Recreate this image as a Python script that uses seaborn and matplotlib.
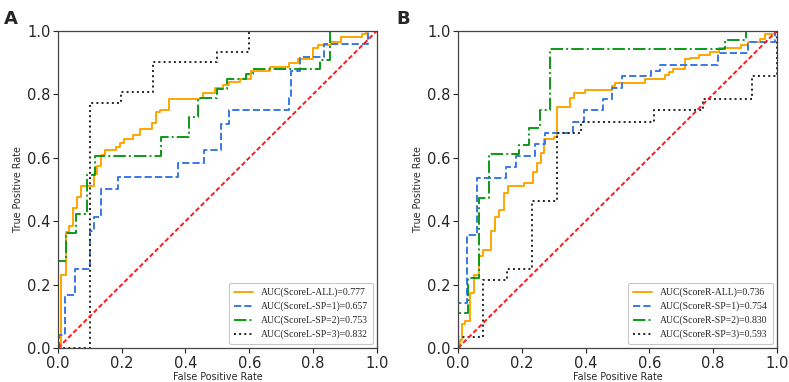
import matplotlib
matplotlib.use("Agg")
import matplotlib.pyplot as plt
import seaborn as sns
import pandas as pd

# ---------------- data ----------------
# Panel A (ScoreL)
a_all_fpr = [0, 0.011, 0.024, 0.036, 0.047, 0.06, 0.073, 0.113, 0.121, 0.134, 0.146, 0.183, 0.195, 0.206,
             0.235, 0.258, 0.296, 0.308, 0.319, 0.347, 0.444, 0.455, 0.494, 0.517, 0.538, 0.57, 0.606,
             0.666, 0.726, 0.752, 0.8, 0.815, 0.857, 0.888, 0.955, 0.967, 1.0]
a_all_tpr = [0, 0.23, 0.365, 0.385, 0.44, 0.475, 0.51, 0.55, 0.575, 0.61, 0.625, 0.635, 0.648, 0.66,
             0.672, 0.69, 0.71, 0.745, 0.75, 0.785, 0.79, 0.805, 0.82, 0.83, 0.84, 0.85, 0.875,
             0.885, 0.9, 0.91, 0.945, 0.955, 0.965, 0.98, 0.99, 1.0, 1.0]
a_sp1_fpr = [0, 0.003, 0.023, 0.052, 0.101, 0.113, 0.134, 0.188, 0.378, 0.458, 0.51, 0.538, 0.726, 0.73,
             0.758, 0.836, 0.972, 1.0]
a_sp1_tpr = [0, 0.042, 0.166, 0.25, 0.37, 0.413, 0.50, 0.54, 0.583, 0.625, 0.708, 0.75, 0.79, 0.875,
             0.917, 0.958, 1.0, 1.0]
a_sp2_fpr = [0, 0, 0.026, 0.057, 0.09, 0.116, 0.324, 0.41, 0.44, 0.498, 0.53, 0.59, 0.611, 0.823, 0.852, 1.0]
a_sp2_tpr = [0, 0.273, 0.364, 0.424, 0.545, 0.606, 0.667, 0.727, 0.788, 0.818, 0.848, 0.863, 0.879,
             0.909, 1.0, 1.0]
a_sp3_fpr = [0, 0.099, 0.199, 0.298, 0.498, 0.599, 1.0]
a_sp3_tpr = [0, 0.774, 0.806, 0.903, 0.935, 1.0, 1.0]

# Panel B (ScoreR)
b_all_fpr = [0, 0.005, 0.0125, 0.023, 0.039, 0.051, 0.065, 0.077, 0.104, 0.117, 0.13, 0.143, 0.156, 0.206,
             0.234, 0.247, 0.26, 0.271, 0.3, 0.31, 0.352, 0.364, 0.399, 0.482, 0.493, 0.587, 0.649,
             0.662, 0.675, 0.712, 0.728, 0.756, 0.79, 0.82, 0.889, 0.91, 0.947, 0.962, 0.994, 1.0]
b_all_tpr = [0, 0.024, 0.075, 0.085, 0.175, 0.23, 0.29, 0.31, 0.37, 0.413, 0.435, 0.49, 0.51, 0.52,
             0.555, 0.585, 0.615, 0.66, 0.665, 0.76, 0.79, 0.805, 0.815, 0.825, 0.835, 0.85, 0.86,
             0.87, 0.88, 0.91, 0.915, 0.925, 0.935, 0.945, 0.955, 0.965, 0.975, 0.99, 1.0, 1.0]
b_sp1_fpr = [0, 0, 0.028, 0.06, 0.151, 0.182, 0.242, 0.273, 0.362, 0.394, 0.456, 0.484, 0.514, 0.605,
             0.634, 0.816, 0.91, 0.994, 1.0]
b_sp1_tpr = [0, 0.143, 0.357, 0.536, 0.571, 0.607, 0.643, 0.679, 0.714, 0.75, 0.786, 0.821, 0.857, 0.875,
             0.893, 0.929, 0.964, 1.0, 1.0]
b_sp2_fpr = [0, 0, 0.031, 0.065, 0.096, 0.192, 0.224, 0.258, 0.289, 0.837, 0.902, 1.0]
b_sp2_tpr = [0, 0.111, 0.222, 0.472, 0.611, 0.639, 0.694, 0.75, 0.944, 0.972, 1.0, 1.0]
b_sp3_fpr = [0, 0, 0.077, 0.153, 0.232, 0.31, 0.386, 0.616, 0.769, 0.923, 1.0, 1.0]
b_sp3_tpr = [0, 0.036, 0.214, 0.25, 0.464, 0.679, 0.714, 0.75, 0.786, 0.857, 1.0, 1.0]

a_labels = ["AUC(ScoreL-ALL)=0.777", "AUC(ScoreL-SP=1)=0.657",
            "AUC(ScoreL-SP=2)=0.753", "AUC(ScoreL-SP=3)=0.832"]
b_labels = ["AUC(ScoreR-ALL)=0.736", "AUC(ScoreR-SP=1)=0.754",
            "AUC(ScoreR-SP=2)=0.830", "AUC(ScoreR-SP=3)=0.593"]
panel_letters = ["A", "B"]
ticks = [0.0, 0.2, 0.4, 0.6, 0.8, 1.0]

# ---------------- styling ----------------
sns.set_theme(style="ticks")
plt.rcParams['font.family'] = ['DejaVu Sans']

colors = ["#FFA500", "#3A78E6", "#0A9A16", "#222222"]
styles = ["-", "--", "-.", ":"]

fig = plt.figure(figsize=(7.89, 3.82), dpi=100)
axA = fig.add_axes([0.0735, 0.089, 0.404, 0.830])
axB = fig.add_axes([0.5805, 0.089, 0.404, 0.830])

panels = [
    (axA, [(a_all_fpr, a_all_tpr), (a_sp1_fpr, a_sp1_tpr), (a_sp2_fpr, a_sp2_tpr), (a_sp3_fpr, a_sp3_tpr)], a_labels),
    (axB, [(b_all_fpr, b_all_tpr), (b_sp1_fpr, b_sp1_tpr), (b_sp2_fpr, b_sp2_tpr), (b_sp3_fpr, b_sp3_tpr)], b_labels),
]

for ax, curves, labels in panels:
    for (fx, ty), lab, c, ls in zip(curves, labels, colors, styles):
        df = pd.DataFrame({"fpr": fx, "tpr": ty})
        sns.lineplot(data=df, x="fpr", y="tpr", ax=ax, sort=False, estimator=None,
                     color=c, linestyle=ls, linewidth=1.4, label=lab, drawstyle="steps-post")
    diag = sns.lineplot(x=[0, 1], y=[0, 1], ax=ax, color="#FF1A1A", linewidth=1.4)
    ax.lines[-1].set_dashes((2.4, 1.3))
    ax.set_xlim(0, 1)
    ax.set_ylim(0, 1)
    ax.set_xticks(ticks)
    ax.set_yticks(ticks)
    ax.set_xticklabels([f"{t:.1f}" for t in ticks], fontsize=10.5)
    ax.set_yticklabels([f"{t:.1f}" for t in ticks], fontsize=10.5)
    ax.tick_params(length=3.5, width=0.8, pad=2)
    ax.set_xlabel("False Positive Rate", fontsize=6.9, labelpad=1)
    ax.set_ylabel("True Positive Rate", fontsize=6.9, labelpad=3)
    for s in ax.spines.values():
        s.set_color("#444444")
        s.set_linewidth(0.9)
    leg = ax.legend(loc="lower right", prop={"family": "Liberation Serif", "size": 7},
                    frameon=True, handlelength=2.0, borderpad=0.5, labelspacing=0.45,
                    borderaxespad=0.4)
    leg.get_frame().set_edgecolor("#BBBBBB")
    leg.get_frame().set_linewidth(0.8)

fig.text(0.005, 0.975, "A", fontsize=13, fontweight="bold", va="top", ha="left")
fig.text(0.503, 0.975, "B", fontsize=13, fontweight="bold", va="top", ha="left")

fig.savefig("out.png", dpi=100, facecolor="white")
